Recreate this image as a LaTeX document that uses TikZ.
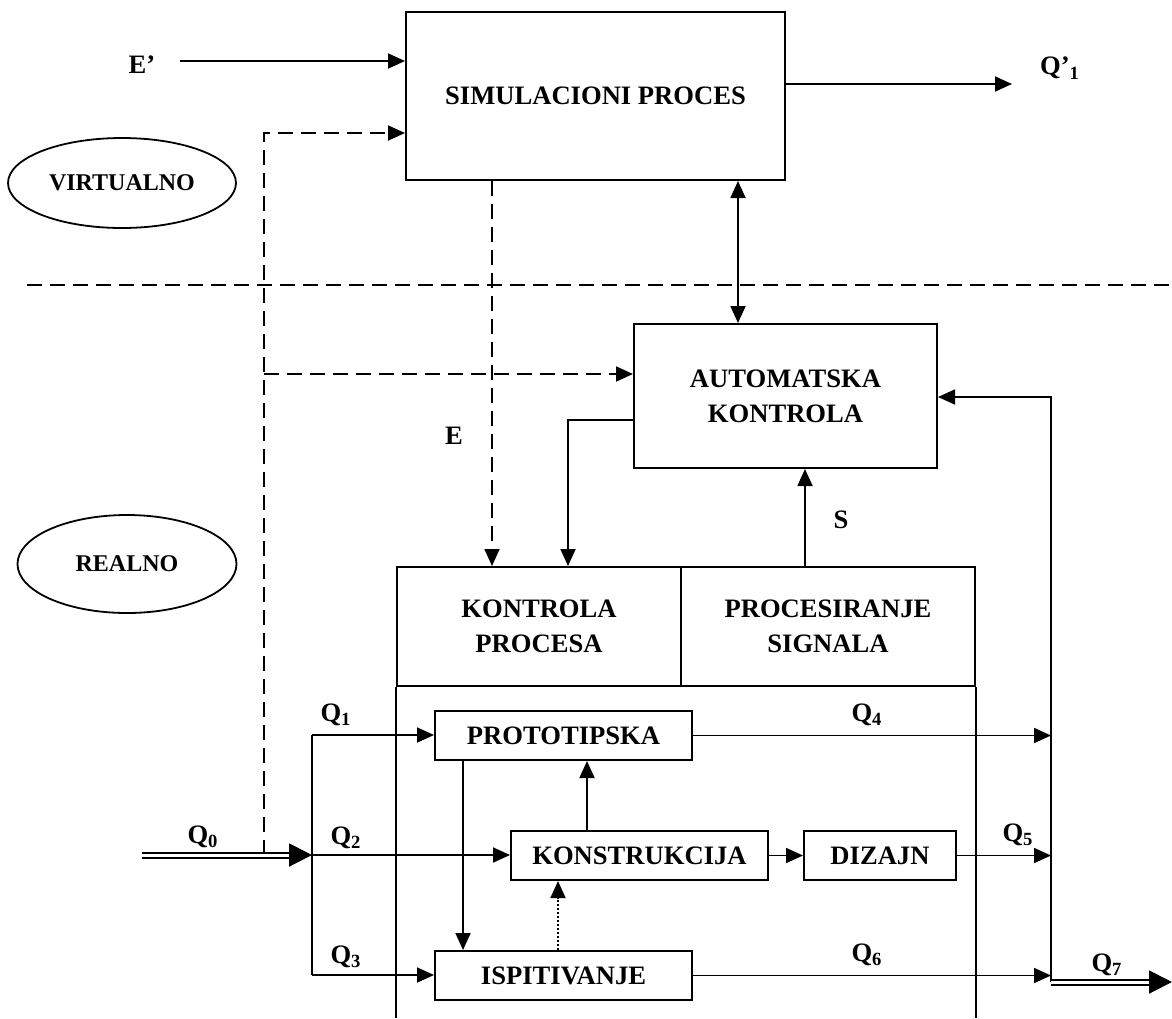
\documentclass[tikz,border=0pt]{standalone}
\usepackage{fontspec}
\setmainfont{Liberation Serif}
\usetikzlibrary{arrows.meta, shapes.geometric}

\begin{document}
\begin{tikzpicture}[x=0.5pt, y=-0.5pt, line width=0.9pt,
  font=\fontsize{13.3}{17.5}\selectfont\bfseries,
  >={Triangle[length=8.5pt,width=7.5pt]},
  blok/.style={draw, line width=1pt, inner sep=0pt, align=center},
  oval/.style={draw, ellipse, inner sep=0pt, font=\fontsize{12}{14}\selectfont\bfseries},
  crt/.style={dash pattern=on 7.5pt off 4pt},
  dvojna/.style={double, double distance=1.5pt, line width=1pt},
  debela/.style={-{Triangle[length=11.5pt,width=11.5pt]}}]
  \useasboundingbox (0,0) rectangle (1172,1018);

  % pomocne tacke
  \coordinate (ein) at (180,61);
  \coordinate (qout) at (1012,84);
  \coordinate (dv) at (264,855);
  \coordinate (dg) at (264,133);
  \coordinate (da) at (264,374);
  \coordinate (dl) at (27,285);
  \coordinate (dr) at (1172,285);
  \coordinate (xe) at (492,0);
  \coordinate (xd) at (738,0);
  \coordinate (xa) at (568,420);
  \coordinate (xs) at (805,0);
  \coordinate (xp) at (463,0);
  \coordinate (xk) at (587,0);
  \coordinate (xt) at (558,0);
  \coordinate (sab) at (1051,397);
  \coordinate (sdn) at (1051,982);
  \coordinate (q7) at (1172,982);
  \coordinate (q0) at (142,855);
  \coordinate (razd) at (312,855);
  \coordinate (r1) at (312,735);
  \coordinate (r3) at (312,975);
  \coordinate (bot) at (0,1018);

  % blokovi
  \node[blok, minimum width=189.5pt, minimum height=84pt] (sim) at (595.5,96) {SIMULACIONI PROCES};
  \node[blok, minimum width=151.5pt, minimum height=72pt] (auto) at (785.5,396) {AUTOMATSKA\\KONTROLA};
  \node[blok, minimum width=142pt, minimum height=59.5pt] (kp) at (539,626.5) {KONTROLA\\PROCESA};
  \node[blok, minimum width=147pt, minimum height=59.5pt] (ps) at (828,626.5) {PROCESIRANJE\\SIGNALA};
  \node[blok, minimum width=128.5pt, minimum height=24.5pt] (proto) at (563.5,735.5) {PROTOTIPSKA};
  \node[blok, minimum width=128.5pt, minimum height=24.5pt] (konst) at (639.5,855.5) {KONSTRUKCIJA};
  \node[blok, minimum width=76pt, minimum height=24.5pt] (diz) at (880,855.5) {DIZAJN};
  \node[blok, minimum width=128.5pt, minimum height=24.5pt] (isp) at (563.5,975.5) {ISPITIVANJE};
  \draw[line width=1pt] (kp.south west) -- (kp.south west |- bot);
  \draw[line width=1pt] (ps.south east) -- (ps.south east |- bot);

  \node[oval, minimum width=114pt, minimum height=45pt] (virt) at (122,183) {VIRTUALNO};
  \node[oval, minimum width=109.5pt, minimum height=49pt] (real) at (127,564) {REALNO};

  % natpisi
  \node (le) at (142,65) {E'};
  \node (lq1p) at (1060,68) {Q'\textsubscript{1}};
  \node (lE) at (454,436) {E};
  \node (lS) at (841,520) {S};
  \node (lq0) at (203,837) {Q\textsubscript{0}};
  \node (lq1) at (336,715) {Q\textsubscript{1}};
  \node (lq2) at (346,838) {Q\textsubscript{2}};
  \node (lq3) at (346,957) {Q\textsubscript{3}};
  \node (lq4) at (867,715) {Q\textsubscript{4}};
  \node (lq5) at (1018,835) {Q\textsubscript{5}};
  \node (lq6) at (867,955) {Q\textsubscript{6}};
  \node (lq7) at (1107,965) {Q\textsubscript{7}};

  % veze
  \draw[->] (ein) -- (ein -| sim.west);
  \draw[->] (qout -| sim.east) -- (qout);
  \draw[crt] (dl) -- (dr);
  \draw[crt,->] (dv) -- (dg) -- (dg -| sim.west);
  \draw[crt,->] (da) -- (da -| auto.west);
  \draw[crt,->] (sim.south -| xe) -- (kp.north -| xe);
  \draw[<->] (sim.south -| xd) -- (auto.north -| xd);
  \draw[->] (auto.west |- xa) -- (xa) -- (xa |- kp.north);
  \draw[->] (ps.north -| xs) -- (auto.south -| xs);
  \draw[->] (sdn) -- (sab) -- (sab -| auto.east);
  \draw[dvojna, debela] (sdn) -- (q7);
  \draw[dvojna, debela] (q0) -- (razd);
  \draw (r1) -- (r3);
  \draw[->] (r1) -- (r1 -| proto.west);
  \draw[->] (razd) -- (razd -| konst.west);
  \draw[->] (r3) -- (r3 -| isp.west);
  \draw[->] (proto.south -| xp) -- (isp.north -| xp);
  \draw[->] (konst.north -| xk) -- (proto.south -| xk);
  \draw[->, dash pattern=on 1pt off 1pt] (isp.north -| xt) -- (konst.south -| xt);
  \draw[->] (konst.east) -- (diz.west);
  \draw[->] (proto.east) -- (proto.east -| sab);
  \draw[->] (diz.east) -- (diz.east -| sab);
  \draw[->] (isp.east) -- (isp.east -| sab);
\end{tikzpicture}
\end{document}
